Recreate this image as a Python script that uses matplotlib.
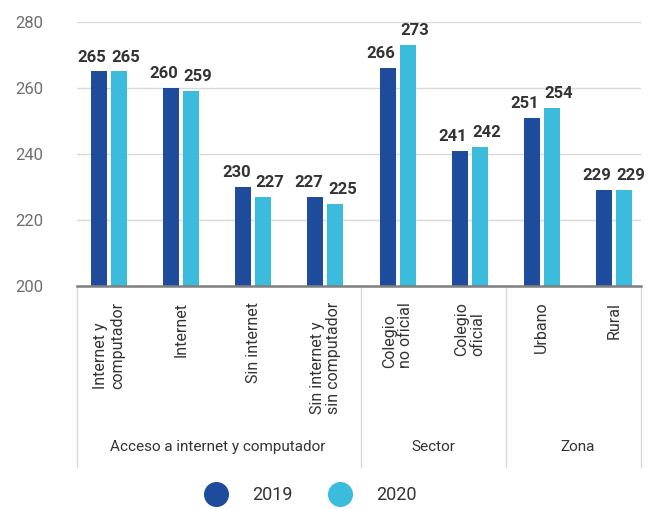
import numpy as np
import matplotlib.pyplot as plt
import matplotlib.transforms as mtransforms
from matplotlib.lines import Line2D

plt.rcParams['font.family'] = ['Roboto', 'DejaVu Sans']

categorias = ['Internet y\ncomputador', 'Internet', 'Sin internet',
              'Sin internet y\nsin computador', 'Colegio\nno oficial',
              'Colegio\noficial', 'Urbano', 'Rural']
v2019 = [265, 260, 230, 227, 266, 241, 251, 229]
v2020 = [265, 259, 227, 225, 273, 242, 254, 229]
grupos = ['Acceso a internet y computador', 'Sector', 'Zona']
grupo_inicio = [0, 4, 6]
grupo_fin = [3, 5, 7]

c2019 = '#1e4b9b'
c2020 = '#3bbcdd'
texto = '#333333'
gris = '#6e6e6e'

fig = plt.figure(figsize=(6.59, 5.09), dpi=100)
ax = fig.add_axes([0.1168, 0.4381, 0.8558, 0.5187])

x = np.arange(len(categorias))
w = 0.222
d = 0.139
ax.bar(x - d, np.array(v2019) - 200, w, bottom=200, color=c2019, zorder=3)
ax.bar(x + d, np.array(v2020) - 200, w, bottom=200, color=c2020, zorder=3)

for xi, v in zip(x, v2019):
    ax.annotate(str(v), (xi - d, v), xytext=(-5, 5), textcoords='offset points',
                ha='center', va='bottom', fontsize=12, fontweight='bold', color=texto)
for xi, v in zip(x, v2020):
    ax.annotate(str(v), (xi + d, v), xytext=(5, 5), textcoords='offset points',
                ha='center', va='bottom', fontsize=12, fontweight='bold', color=texto)

ax.set_ylim(200, 280)
ax.set_xlim(-0.444, 7.374)
ax.set_yticks([200, 220, 240, 260, 280])
ax.tick_params(axis='y', length=0, labelsize=12, labelcolor=gris, pad=24)
ax.set_xticks([])
ax.yaxis.grid(True, color='#d9d9d9', linewidth=1, zorder=0)
for s in ['top', 'right', 'left']:
    ax.spines[s].set_visible(False)
ax.spines['bottom'].set_color('#7f7f7f')
ax.spines['bottom'].set_linewidth(1.8)
ax.spines['bottom'].set_zorder(4)

trans = mtransforms.blended_transform_factory(ax.transData, ax.transAxes)
for xi, lab in zip(x, categorias):
    ax.text(xi, -0.06, lab, transform=trans, rotation=90, ha='center', va='top',
            fontsize=11.5, color=texto, multialignment='left', linespacing=1.15)

# separadores y nombres de grupo
seps = [-0.444, 3.5, 5.5, 7.374]
for s in seps:
    ax.add_line(Line2D([s, s], [0, -0.686], transform=trans, color='#d9d9d9',
                       linewidth=1, clip_on=False))
for g, i0, i1 in zip(grupos, grupo_inicio, grupo_fin):
    ax.text((i0 + i1) / 2, -0.61, g, transform=trans, ha='center', va='center',
            fontsize=11, color=texto)

handles = [Line2D([], [], marker='o', linestyle='none', markersize=17,
                  markerfacecolor=c2019, markeredgecolor=c2019),
           Line2D([], [], marker='o', linestyle='none', markersize=17,
                  markerfacecolor=c2020, markeredgecolor=c2020)]
fig.legend(handles, ['2019', '2020'], loc='center', bbox_to_anchor=(0.466, 0.027),
           ncol=2, frameon=False, fontsize=13, handletextpad=1.0, columnspacing=1.6,
           labelcolor=texto)

fig.savefig('out.png', dpi=100)
